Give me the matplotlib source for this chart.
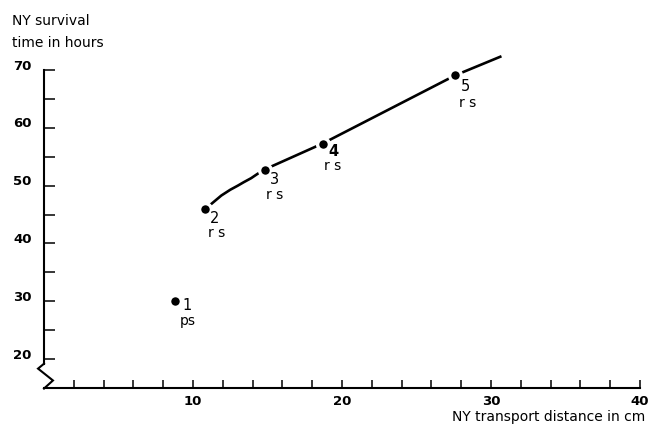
import matplotlib
matplotlib.use("Agg")
import matplotlib.pyplot as plt
import matplotlib.transforms as mtransforms
import numpy as np

# observations (distance cm, survival hours)
pt_x = [8.8, 10.8, 14.8, 18.7, 27.6]
pt_y = [30.1, 45.9, 52.8, 57.3, 69.1]
pt_num = ["1", "2", "3", "4", "5"]
pt_tag = ["ps", "r s", "r s", "r s", "r s"]

# fitted curve through points 2..5
curve_x = [10.8, 11.3, 11.9, 12.5, 13.0, 13.4, 13.9, 14.3, 14.8, 18.7, 27.6, 30.7]
curve_y = [45.9, 47.0, 48.3, 49.3, 50.0, 50.6, 51.3, 52.0, 52.8, 57.3, 69.1, 72.4]

x_major = [10, 20, 30, 40]
x_minor = list(range(2, 41, 2))
y_ticks = [20, 25, 30, 35, 40, 45, 50, 55, 60, 65, 70]
y_labels = ["20", "", "30", "", "40", "", "50", "", "60", "", "70"]

fig = plt.figure(figsize=(6.5, 4.32), dpi=100)
ax = fig.add_axes([0.0677, 0.1019, 0.917, 0.8027])
ax.set_xlim(0, 40)
ax.set_ylim(15, 75)

ax.plot(curve_x, curve_y, color="black", lw=1.9, solid_capstyle="butt",
        solid_joinstyle="round", zorder=2)
ax.plot(pt_x, pt_y, ls="none", marker="o", ms=8.5, mfc="black", mec="white",
        mew=2.4, zorder=3, clip_on=False)

# number and type labels under each point
num_off = [(8.6, -3.2), (7, -6.5), (7, -7), (8, -6), (7, -8)]
tag_off = [(9.4, -14.6), (8.5, -17), (7, -18.5), (7, -16.5), (8.6, -20)]
for i in range(len(pt_x)):
    ax.annotate(pt_num[i], (pt_x[i], pt_y[i]), xytext=num_off[i],
                textcoords="offset points", ha="center", va="center",
                fontsize=10.5, fontweight="bold" if i == 3 else "normal")
    ax.annotate(pt_tag[i], (pt_x[i], pt_y[i]), xytext=tag_off[i],
                textcoords="offset points", ha="center", va="center",
                fontsize=10)

for s in ["top", "right"]:
    ax.spines[s].set_visible(False)
ax.spines["left"].set_bounds(19.2, 70)
ax.spines["left"].set_linewidth(1.5)
ax.spines["bottom"].set_linewidth(1.5)

# axis break zigzag
ax.plot([0, -0.4, 0.6, 0], [19.2, 18.35, 16.3, 14.9], color="black",
        lw=1.5, clip_on=False, solid_joinstyle="miter")

ax.set_xticks(x_major)
ax.set_xticks(x_minor, minor=True)
ax.set_yticks(y_ticks)
ax.set_yticklabels(y_labels)
ax.tick_params(axis="x", which="both", direction="in", length=6, width=1.1,
               pad=5, labelsize=9.5)
ax.tick_params(axis="y", direction="in", length=8, width=1.1, pad=9,
               labelsize=9.5)
for lab in ax.get_xticklabels() + ax.get_yticklabels():
    lab.set_fontweight("bold")
shift = mtransforms.ScaledTranslation(0, 4 / 72, fig.dpi_scale_trans)
for lab in ax.get_yticklabels():
    lab.set_transform(lab.get_transform() + shift)

fig.text(12 / 650, 1 - 25 / 432, "NY survival", fontsize=10, va="baseline")
fig.text(12 / 650, 1 - 47 / 432, "time in hours", fontsize=10, va="baseline")
fig.text(645 / 650, 1 - 421 / 432, "NY transport distance in cm", fontsize=10,
         ha="right", va="baseline")

fig.savefig("out.png", dpi=100)
